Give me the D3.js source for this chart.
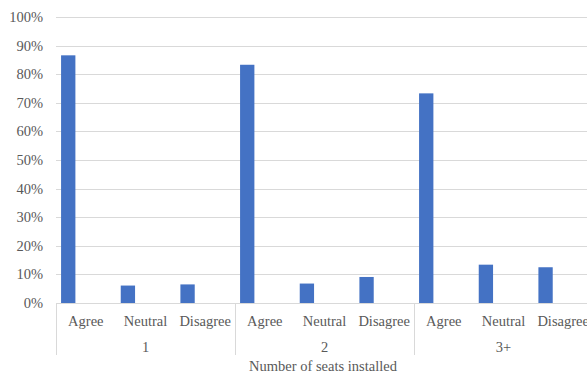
<!DOCTYPE html>
<html>
<head>
<meta charset="utf-8">
<script src="https://cdn.jsdelivr.net/npm/d3@7"></script>
<style>
  html, body { margin: 0; padding: 0; background: #fff; }
  svg { display: block; }
</style>
</head>
<body>
<div id="chart"></div>
<script>
// Survey responses grouped by number of seats installed
const groups = ["1", "2", "3+"];
const responses = ["Agree", "Neutral", "Disagree"];
const shares = [
  [0.866, 0.061, 0.065],   // 1 seat
  [0.833, 0.068, 0.091],   // 2 seats
  [0.733, 0.134, 0.125]    // 3+ seats
];
const yTicks = [0, 0.1, 0.2, 0.3, 0.4, 0.5, 0.6, 0.7, 0.8, 0.9, 1.0];
const axisTitle = "Number of seats installed";

const width = 587, height = 373;
const margin = { top: 17, right: -6, bottom: 70, left: 56 };
const innerW = width - margin.left - margin.right;
const innerH = height - margin.top - margin.bottom;
const fontFamily = "Liberation Serif";
const textColor = "#595959";
const fontSize = 14.5;

const svg = d3.select("#chart").append("svg")
  .attr("width", width).attr("height", height);
const g = svg.append("g").attr("transform", `translate(${margin.left},${margin.top})`);

// Flattened categories: group|response
const cats = [];
groups.forEach((grp, gi) => responses.forEach((r, ri) =>
  cats.push({ group: grp, response: r, value: shares[gi][ri] })));

const x = d3.scaleBand().domain(cats.map(d => d.group + "|" + d.response))
  .range([0, innerW]).padding(0);
const xGroup = d3.scaleBand().domain(groups).range([0, innerW]).padding(0);
const y = d3.scaleLinear().domain([0, 1]).range([innerH, 0]);

function label(sel) {
  return sel.attr("font-family", fontFamily)
    .attr("font-size", fontSize)
    .attr("fill", textColor)
    .attr("dy", "0.35em");
}

// Gridlines
g.append("g").selectAll("line").data(yTicks).join("line")
  .attr("x1", 0).attr("x2", innerW)
  .attr("y1", d => Math.round(y(d)) + 0.5).attr("y2", d => Math.round(y(d)) + 0.5)
  .attr("stroke", "#d9d9d9").attr("stroke-width", 1);

// Y axis labels
g.append("g").selectAll("text").data(yTicks).join("text")
  .attr("x", -13).attr("y", d => y(d))
  .attr("text-anchor", "end")
  .call(label)
  .text(d => d3.format(".0%")(d));

// Bars (single series, sitting left within each category slot)
const bw = x.bandwidth();
g.append("g").selectAll("rect").data(cats).join("rect")
  .attr("x", d => x(d.group + "|" + d.response) + bw * 0.085)
  .attr("width", bw * 0.24)
  .attr("y", d => y(d.value))
  .attr("height", d => y(0) - y(d.value))
  .attr("fill", "#4472c4");

// Category labels
g.append("g").selectAll("text").data(cats).join("text")
  .attr("x", d => x(d.group + "|" + d.response) + bw / 2)
  .attr("y", innerH + 18)
  .attr("text-anchor", "middle")
  .call(label)
  .text(d => d.response);

// Group separators
const seps = groups.map(grp => xGroup(grp)).concat([innerW]);
g.append("g").selectAll("line").data(seps).join("line")
  .attr("x1", d => Math.round(d) + 0.5).attr("x2", d => Math.round(d) + 0.5)
  .attr("y1", innerH).attr("y2", innerH + 52)
  .attr("stroke", "#d9d9d9").attr("stroke-width", 1);

// Group labels
g.append("g").selectAll("text").data(groups).join("text")
  .attr("x", d => xGroup(d) + xGroup.bandwidth() / 2)
  .attr("y", innerH + 44)
  .attr("text-anchor", "middle")
  .call(label)
  .text(d => d);

// Axis title
svg.append("text")
  .attr("x", 323).attr("y", 366)
  .attr("text-anchor", "middle")
  .call(label)
  .text(axisTitle);
</script>
</body>
</html>
